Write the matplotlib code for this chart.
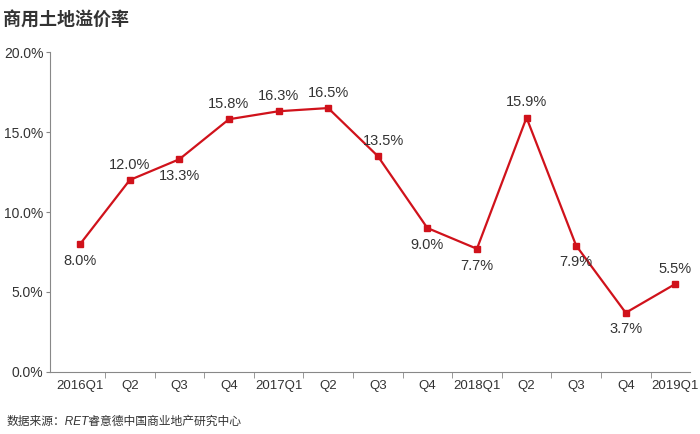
import matplotlib
matplotlib.use("Agg")
import matplotlib.pyplot as plt

plt.rcParams['font.family'] = ['Liberation Sans', 'Noto Sans CJK SC', 'DejaVu Sans']

categories = ["2016Q1","Q2","Q3","Q4","2017Q1","Q2","Q3","Q4","2018Q1","Q2","Q3","Q4","2019Q1"]
values = [8.0, 12.0, 13.3, 15.8, 16.3, 16.5, 13.5, 9.0, 7.7, 15.9, 7.9, 3.7, 5.5]
label_pos = ["below","above","below","above","above","above","aboveright","below","below","above","below","below","above"]

fig = plt.figure(figsize=(7, 4.34), dpi=100)
ax = fig.add_axes([0.072, 0.143, 0.914, 0.737])
red = "#d0121b"
x = list(range(len(values)))
ax.plot(x, values, color=red, lw=1.6, marker='s', ms=4.5)
for xi, v, p in zip(x, values, label_pos):
    if p == "above":
        ax.annotate(f"{v:.1f}%", (xi, v), xytext=(0, 6), textcoords="offset points", ha="center", va="bottom", fontsize=10.5, color="#333333")
    elif p == "aboveright":
        ax.annotate(f"{v:.1f}%", (xi, v), xytext=(4, 6), textcoords="offset points", ha="center", va="bottom", fontsize=10.5, color="#333333")
    else:
        ax.annotate(f"{v:.1f}%", (xi, v), xytext=(0, -7), textcoords="offset points", ha="center", va="top", fontsize=10.5, color="#333333")

ax.set_xlim(-0.6, 12.3)
ax.set_ylim(0, 20)
ax.set_yticks([0, 5, 10, 15, 20])
ax.set_yticklabels([f"{t:.1f}%" for t in [0, 5, 10, 15, 20]], fontsize=10, color="#333333")
ax.set_xticks(x)
ax.set_xticklabels(categories, fontsize=9.5, color="#333333")
ax.set_xticks([i + 0.5 for i in x[:-1]], minor=True)
ax.tick_params(axis='x', which='major', length=0, pad=6)
ax.tick_params(axis='x', which='minor', length=4, color="#888888")
ax.tick_params(axis='y', length=3, color="#888888", pad=2)
for s in ["top", "right"]:
    ax.spines[s].set_visible(False)
for s in ["left", "bottom"]:
    ax.spines[s].set_color("#888888")

fig.text(0.005, 0.975, "商用土地溢价率", fontsize=13, fontstyle="italic", fontweight="bold", color="#333333", va="top")
fig.text(0.01, 0.015, "数据来源：RET睿意德中国商业地产研究中心", fontsize=8.5, fontstyle="italic", color="#333333", va="bottom")
fig.savefig("out.png", dpi=100)
